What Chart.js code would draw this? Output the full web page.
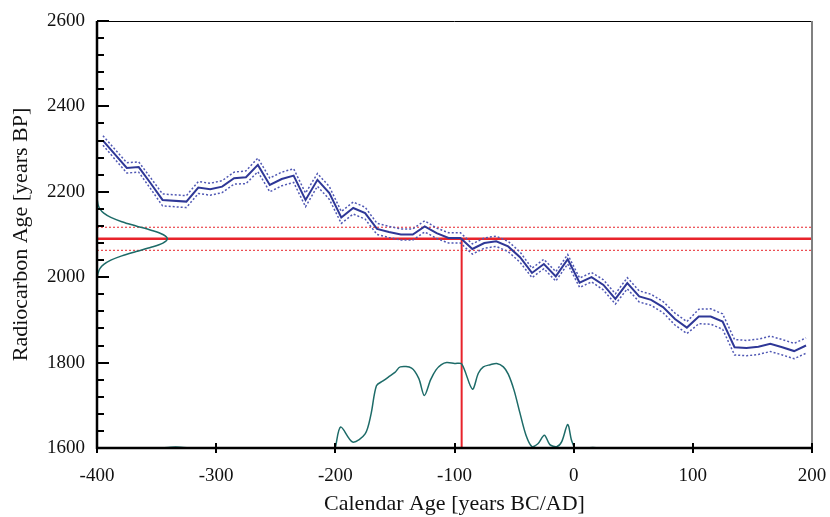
<!DOCTYPE html>
<html>
<head>
<meta charset="utf-8">
<script src="https://cdn.jsdelivr.net/npm/chart.js@4.4.1/dist/chart.umd.min.js"></script>
<style>
  body { margin: 0; background: #fff; }
  #wrap { width: 830px; height: 517px; }
</style>
</head>
<body>
<div id="wrap"><canvas id="grafico" width="830" height="517"></canvas></div>
<script>
// curva de calibracao (ano cal, idade 14C, erro)
const calYears = [-395, -375, -365, -355, -345, -325, -315, -305, -295, -285, -275, -265, -255, -245, -235,
    -225, -215, -205, -195, -185, -175, -165, -155, -145, -135, -125, -115, -105, -95, -85, -75, -65, -55,
    -45, -35, -25, -15, -5, 5, 15, 25, 35, 45, 55, 65, 75, 85, 95, 105, 115, 125, 135, 145, 155, 165, 175,
    185, 195];
const c14Ages = [2320, 2256, 2258, 2220, 2181, 2177, 2210, 2206, 2212, 2232, 2234, 2263, 2216, 2230, 2238,
    2181, 2228, 2197, 2140, 2162, 2150, 2113, 2106, 2100, 2100, 2119, 2103, 2092, 2092, 2066, 2080, 2084, 2072,
    2047, 2010, 2031, 2002, 2042, 1987, 2000, 1982, 1949, 1986, 1955, 1947, 1930, 1902, 1882, 1908, 1908,
    1896, 1836, 1834, 1837, 1844, 1836, 1827, 1840];
const c14Err = [11, 12, 12, 13, 14, 14, 14, 14, 14, 14, 15, 16, 16, 16, 16,
    16, 15, 15, 14, 14, 14, 13, 13, 13, 13, 13, 12, 12, 12, 12, 12, 12, 12,
    12, 11, 11, 11, 11, 11, 11, 12, 12, 13, 13, 13, 13, 14, 14, 17, 18,
    18, 18, 18, 18, 18, 18, 18, 18];

// amostra medida
const sampleAge = 2090;
const sampleErr = 27;
const sampleCal = -94;

// curva gaussiana da amostra (idade 14C -> largura em anos)
const gaussAges = [2180, 2170, 2160, 2150, 2140, 2130, 2120, 2110, 2100, 2090, 2080, 2070, 2060, 2050,
    2040, 2030, 2020, 2010, 2000];
const gaussYears = [-399.7, -399.1, -397.6, -394.3, -388.4, -379.2, -367.2, -354.6, -344.7, -341,
    -344.7, -354.6, -367.2, -379.2, -388.4, -394.3, -397.6, -399.1, -399.7];

// distribuicao calibrada (null = quebra)
const distYears = [-346, -338, -330, -322, null, -200, -195.5, -185.5, -175, -170, -165.5, -160, -155.5, -150,
    -145.5, -136, -130, -125.3, -120, -115.5, -111, -106.6, -100, -94, -85, -80, -75.8, -70, -64.6, -59,
    -54.9, -50, -45, -40, -35.2, -30, -24.6, -20, -14.3, -10, -5, -2, 0.5, null, 12, 16, 20];
const distAges = [1600, 1602, 1602, 1600, null, 1601, 1649, 1614, 1633, 1680, 1746, 1757, 1766, 1777,
    1790, 1787, 1763, 1723, 1760, 1783, 1795, 1800, 1798, 1797, 1738, 1775, 1790, 1795, 1798, 1790,
    1773, 1735, 1681, 1630, 1604, 1610, 1630, 1608, 1603, 1615, 1655, 1620, 1601, null, 1600, 1601, 1600];

const xTicks = [-400, -300, -200, -100, 0, 100, 200];

const fonte = "'Liberation Serif', 'Times New Roman', serif";

const pts = (xs, ys) => xs.map((x, i) => (x === null ? { x: null, y: null } : { x: x, y: ys[i] }));

const curvaMeio = pts(calYears, c14Ages);
const curvaSup = pts(calYears, c14Ages.map((v, i) => v + c14Err[i]));
const curvaInf = pts(calYears, c14Ages.map((v, i) => v - c14Err[i]));

// eixos desenhados a mao (ticks para dentro)
const eixosPlugin = {
    id: 'eixos',
    afterDatasetsDraw(chart) {
        const { ctx, chartArea: a, scales } = chart;
        const sx = scales.x, sy = scales.y;
        ctx.save();
        ctx.lineCap = 'butt';
        // topo
        ctx.strokeStyle = '#000';
        ctx.lineWidth = 1;
        ctx.beginPath(); ctx.moveTo(a.left, a.top + 0.5); ctx.lineTo(a.right, a.top + 0.5); ctx.stroke();
        // direita
        ctx.strokeStyle = '#808080';
        ctx.lineWidth = 2;
        ctx.beginPath(); ctx.moveTo(a.right, a.top); ctx.lineTo(a.right, a.bottom); ctx.stroke();
        // esquerda e base
        ctx.strokeStyle = '#000';
        ctx.lineWidth = 2.5;
        ctx.beginPath(); ctx.moveTo(a.left, a.top); ctx.lineTo(a.left, a.bottom + 1); ctx.stroke();
        ctx.beginPath(); ctx.moveTo(a.left - 1, a.bottom); ctx.lineTo(a.right + 1, a.bottom); ctx.stroke();
        // ticks y
        ctx.lineWidth = 2;
        for (let v = sy.min; v <= sy.max; v += 40) {
            const py = Math.round(sy.getPixelForValue(v));
            const len = v % 200 === 0 ? 12 : 7;
            ctx.beginPath(); ctx.moveTo(a.left, py); ctx.lineTo(a.left + len, py); ctx.stroke();
        }
        // ticks x
        xTicks.forEach(v => {
            const px = Math.round(sx.getPixelForValue(v));
            ctx.beginPath(); ctx.moveTo(px, a.bottom - 5); ctx.lineTo(px, a.bottom + 5); ctx.stroke();
        });
        ctx.restore();
    }
};

new Chart(document.getElementById('grafico').getContext('2d'), {
    type: 'scatter',
    data: {
        datasets: [
            {
                label: 'dist',
                data: pts(distYears, distAges),
                showLine: true,
                borderColor: '#1d6b68',
                borderWidth: 1.5,
                tension: 0.3,
                spanGaps: false,
                pointRadius: 0
            },
            {
                label: 'gauss',
                data: pts(gaussYears, gaussAges),
                showLine: true,
                borderColor: '#1d6b68',
                borderWidth: 1.5,
                tension: 0.3,
                pointRadius: 0
            },
            {
                label: 'sup',
                data: curvaSup,
                showLine: true,
                borderColor: '#5058b4',
                borderWidth: 1.5,
                borderDash: [2, 2],
                pointRadius: 0
            },
            {
                label: 'inf',
                data: curvaInf,
                showLine: true,
                borderColor: '#5058b4',
                borderWidth: 1.5,
                borderDash: [2, 2],
                pointRadius: 0
            },
            {
                label: 'curva',
                data: curvaMeio,
                showLine: true,
                borderColor: '#2f3897',
                borderWidth: 2,
                pointRadius: 0
            },
            {
                label: 'sup amostra',
                data: [{ x: -400, y: sampleAge + sampleErr }, { x: 200, y: sampleAge + sampleErr }],
                showLine: true,
                borderColor: '#e8232b',
                borderWidth: 1,
                borderDash: [2, 2],
                pointRadius: 0
            },
            {
                label: 'inf amostra',
                data: [{ x: -400, y: sampleAge - sampleErr }, { x: 200, y: sampleAge - sampleErr }],
                showLine: true,
                borderColor: '#e8232b',
                borderWidth: 1,
                borderDash: [2, 2],
                pointRadius: 0
            },
            {
                label: 'amostra',
                data: [{ x: -400, y: sampleAge }, { x: 200, y: sampleAge }],
                showLine: true,
                borderColor: '#e8232b',
                borderWidth: 2.5,
                pointRadius: 0
            },
            {
                label: 'cal',
                data: [{ x: sampleCal, y: sampleAge }, { x: sampleCal, y: 1600 }],
                showLine: true,
                borderColor: '#e8232b',
                borderWidth: 2,
                pointRadius: 0
            }
        ]
    },
    options: {
        responsive: false,
        animation: false,
        devicePixelRatio: 1,
        layout: { padding: { left: 0, right: 18, top: 21, bottom: 0 } },
        plugins: {
            legend: { display: false },
            tooltip: { enabled: false }
        },
        scales: {
            x: {
                type: 'linear',
                min: -400,
                max: 200,
                afterBuildTicks: (s) => { s.ticks = xTicks.map(v => ({ value: v })); },
                afterFit: (s) => { s.height = 69; s.paddingLeft = 0; s.paddingRight = 0; },
                grid: { display: false, drawTicks: false },
                border: { display: false },
                ticks: {
                    color: '#111',
                    padding: 17,
                    maxRotation: 0,
                    callback: (v) => String(v),
                    font: { family: fonte, size: 19 }
                },
                title: {
                    display: true,
                    text: 'Calendar Age [years BC/AD]',
                    color: '#111',
                    padding: { top: 7, bottom: 0 },
                    font: { family: fonte, size: 22 }
                }
            },
            y: {
                type: 'linear',
                min: 1600,
                max: 2600,
                afterFit: (s) => { s.width = 97; s.paddingTop = 0; s.paddingBottom = 0; },
                grid: { display: false, drawTicks: false },
                border: { display: false },
                ticks: {
                    stepSize: 200,
                    color: '#111',
                    padding: 12,
                    callback: (v) => String(v),
                    font: { family: fonte, size: 19 }
                },
                title: {
                    display: true,
                    text: 'Radiocarbon Age [years BP]',
                    color: '#111',
                    padding: { top: 8, bottom: 0 },
                    font: { family: fonte, size: 22 }
                }
            }
        }
    },
    plugins: [eixosPlugin]
});
</script>
</body>
</html>
